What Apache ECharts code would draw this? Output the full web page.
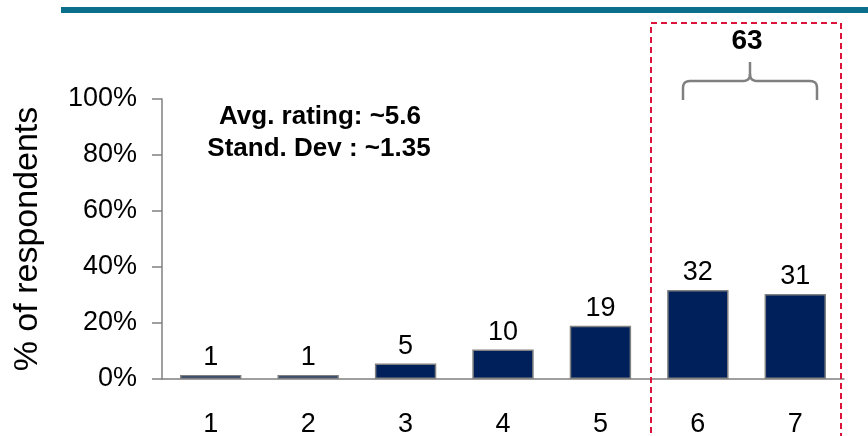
<!DOCTYPE html>
<html>
<head>
<meta charset="utf-8">
<script src="https://cdn.jsdelivr.net/npm/echarts@6/dist/echarts.min.js"></script>
<style>
  html, body { margin: 0; padding: 0; background: #fff; }
  #chart { width: 868px; height: 436px; }
</style>
</head>
<body>
<div id="chart"></div>
<script>
// Données du graphique
const categories = ['1', '2', '3', '4', '5', '6', '7'];
const shares = [1.4, 1.4, 5.5, 10.5, 19, 31.8, 30.4];
const shareLabels = ['1', '1', '5', '10', '19', '32', '31'];
const yTicks = [0, 20, 40, 60, 80, 100];
const topBoxTotal = '63';
const notes = ['Avg. rating: ~5.6', 'Stand. Dev : ~1.35'];

const font = '"Liberation Sans", Arial, sans-serif';
const grey = '#808080';

// coin arrondi de l'accolade (courbe quadratique en points)
const corner = (p0, c, p1) => {
  const pts = [];
  for (let i = 0; i <= 6; i++) {
    const t = i / 6;
    pts.push([
      (1 - t) * (1 - t) * p0[0] + 2 * (1 - t) * t * c[0] + t * t * p1[0],
      (1 - t) * (1 - t) * p0[1] + 2 * (1 - t) * t * c[1] + t * t * p1[1]
    ]);
  }
  return pts;
};

const braceLeft = [[683, 100]]
  .concat(corner([683, 88], [683, 81], [690, 81]))
  .concat(corner([743, 81], [750, 81], [750, 74]))
  .concat([[750, 62]]);
const braceRight = [[817, 100]]
  .concat(corner([817, 88], [817, 81], [810, 81]))
  .concat(corner([757, 81], [750, 81], [750, 74]));

const chart = echarts.init(document.getElementById('chart'));

const option = {
  animation: false,
  grid: { left: 162, right: 24, top: 99, bottom: 57, containLabel: false, outerBoundsMode: 'none' },

  xAxis: {
    type: 'category',
    data: categories,
    axisLine: { lineStyle: { color: grey, width: 1.5 } },
    axisTick: { length: 10, lineStyle: { color: grey, width: 1.5 } },
    axisLabel: { color: '#000', fontFamily: font, fontSize: 27, margin: 32 }
  },

  yAxis: {
    type: 'value',
    min: yTicks[0],
    max: yTicks[yTicks.length - 1],
    interval: yTicks[1] - yTicks[0],
    name: '% of respondents',
    nameLocation: 'middle',
    nameGap: 117,
    nameTextStyle: { color: '#000', fontFamily: font, fontSize: 34 },
    axisLine: { show: true, lineStyle: { color: grey, width: 1.5 } },
    axisTick: { show: true, length: 10, lineStyle: { color: grey, width: 1.5 } },
    axisLabel: {
      color: '#000', fontFamily: font, fontSize: 27, margin: 25,
      formatter: '{value}%'
    },
    splitLine: { show: false }
  },

  series: [
    {
      type: 'bar',
      data: shares,
      barCategoryGap: '37%',
      itemStyle: { color: '#00205b', borderColor: grey, borderWidth: 1.5 },
      label: {
        show: true,
        position: 'top',
        distance: 4,
        color: '#000',
        fontFamily: font,
        fontSize: 27,
        formatter: (p) => shareLabels[p.dataIndex]
      }
    }
  ],

  graphic: [
    // bandeau du haut
    { type: 'rect', shape: { x: 61, y: 7, width: 807, height: 6 }, style: { fill: '#0b6e8a' } },
    // cadre rouge pointillé
    {
      type: 'rect', z: 10,
      shape: { x: 651, y: 23, width: 190, height: 440 },
      style: { fill: null, stroke: '#dc143c', lineWidth: 2, lineDash: [6, 4] }
    },
    // accolade
    {
      type: 'polyline', z: 10,
      shape: { points: braceLeft },
      style: { fill: null, stroke: grey, lineWidth: 2.5 }
    },
    {
      type: 'polyline', z: 10,
      shape: { points: braceRight },
      style: { fill: null, stroke: grey, lineWidth: 2.5 }
    },
    {
      type: 'text', z: 10, x: 747, y: 41,
      style: { text: topBoxTotal, fontFamily: font, fontSize: 28, fontWeight: 'bold', fill: '#000', align: 'center', verticalAlign: 'middle' }
    },
    {
      type: 'text', z: 10, x: 320, y: 117,
      style: { text: notes[0], fontFamily: font, fontSize: 26, fontWeight: 'bold', fill: '#000', align: 'center', verticalAlign: 'middle' }
    },
    {
      type: 'text', z: 10, x: 319, y: 149,
      style: { text: notes[1], fontFamily: font, fontSize: 26, fontWeight: 'bold', fill: '#000', align: 'center', verticalAlign: 'middle' }
    }
  ]
};

chart.setOption(option);
</script>
</body>
</html>
